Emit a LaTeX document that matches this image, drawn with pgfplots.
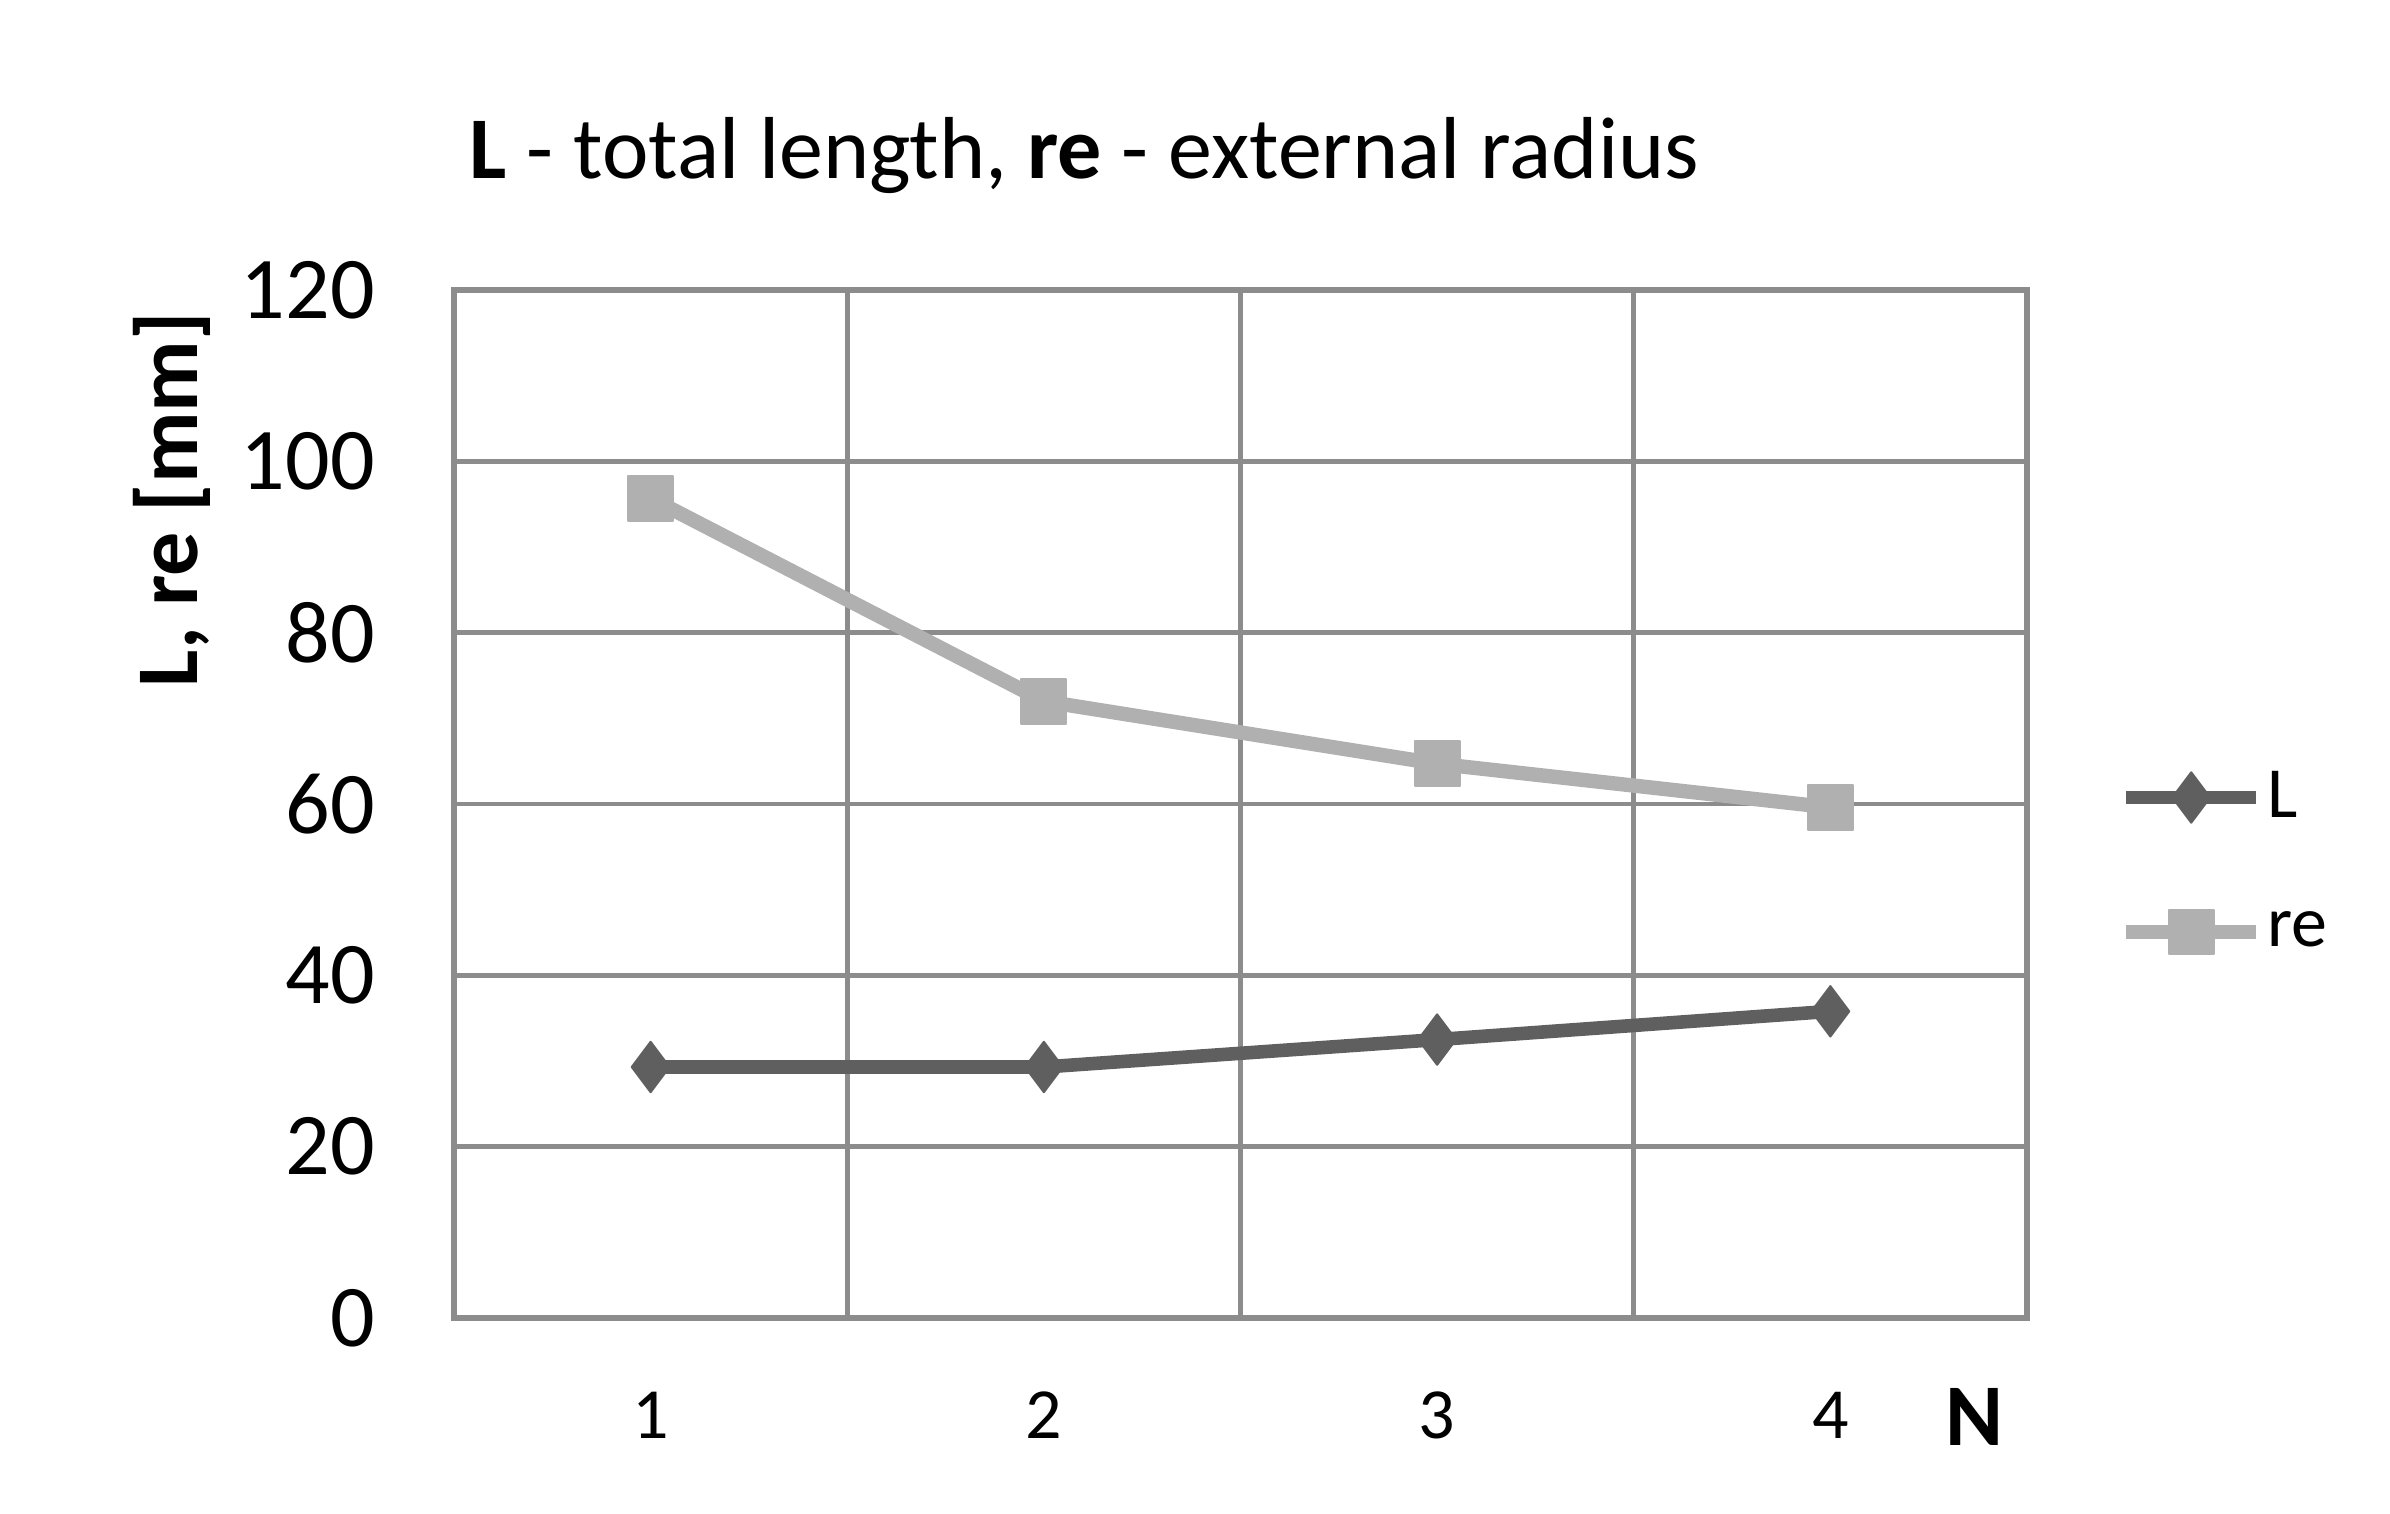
\documentclass[border=0pt]{standalone}
\usepackage{fontspec}
\setmainfont{Carlito}
\usepackage{pgfplots}
\pgfplotsset{compat=1.18}
\definecolor{Ldark}{HTML}{5F5F5F}
\definecolor{Rlight}{HTML}{B0B0B0}
\definecolor{gridg}{HTML}{8C8C8C}
\begin{document}
\begin{tikzpicture}
\begin{axis}[name=ax, at={(0,0)}, anchor=south west,
 scale only axis, width=393.25pt, height=257pt,
 xmin=0.5, xmax=4.5, ymin=0, ymax=120,
 xtick={1,2,3,4}, ytick={0,20,...,120},
 minor xtick={1.5,2.5,3.5},
 xminorgrids=true, ymajorgrids=true,
 major tick length=0pt, minor tick length=0pt,
 axis line style={gridg, line width=1.3pt},
 grid style={gridg, line width=1.2pt},
 minor grid style={gridg, line width=1.2pt},
 /pgf/number format/assume math mode=true,
 yticklabel style={font=\fontsize{22}{26}\selectfont, xshift=-16.3pt},
 xticklabel style={font=\fontsize{18}{22}\selectfont, yshift=-15pt},
 legend style={draw=none, fill=none, at={(rel axis cs:1.058,0.4436)}, anchor=west,
   font=\fontsize{18}{22}\selectfont, row sep=20pt, inner sep=0pt, nodes={inner sep=1pt}},
 legend cell align=left,
 legend image code/.code={\draw[mark repeat=2,mark phase=2,#1] plot coordinates {(0pt,0pt) (16.25pt,0pt) (32.5pt,0pt)};},
 clip=false,
]
\addplot[Ldark, line width=3.4pt, line join=round, mark=diamond*, mark size=6.3pt, mark options={line width=0.5pt, solid}] coordinates {(1,29.3) (2,29.3) (3,32.5) (4,35.8)};
\addplot[Rlight, line width=3.6pt, line join=round, mark=square*, mark size=5.6pt, mark options={line width=0.5pt, solid}] coordinates {(1,95.7) (2,72) (3,64.7) (4,59.6)};
\legend{L, re}
\end{axis}
\node[anchor=base west, font=\fontsize{22}{26}\selectfont, inner sep=0pt] at ([xshift=3.75pt,yshift=28pt]ax.north west) {\textbf{L} - total length, \textbf{re} - external radius};
\node[rotate=90, font=\bfseries\fontsize{22}{26}\selectfont, inner sep=0pt] at ([xshift=-70.5pt, yshift=204.5pt]ax.south west) {L, re [mm]};
\node[font=\bfseries\fontsize{22}{26}\selectfont, anchor=center, inner sep=0pt] at ([xshift=380pt, yshift=-24.75pt]ax.south west) {N};
\pgfresetboundingbox
\path[use as bounding box] ([xshift=-113.5pt,yshift=-48.75pt]ax.south west) rectangle ([xshift=484pt,yshift=329.5pt]ax.south west);
\end{tikzpicture}
\end{document}
